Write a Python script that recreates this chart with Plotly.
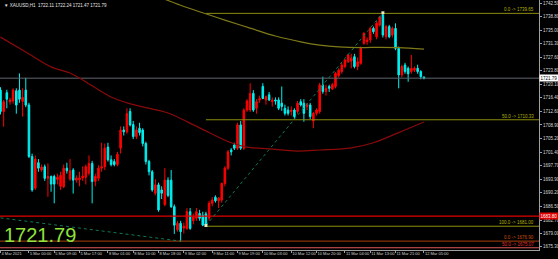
import plotly.graph_objects as go

# ---------------- data ----------------
opens = [1718.5,1712.6,1717.8,1715.3,1715.5,1718.3,1718.5,1715.4,1718.5,1714.4,
         1700.2,1691.5,1698.5,1696.5,1697.4,1694.2,1694.7,1694.7,1693.9,1692.0,
         1691.9,1697.0,1694.0,1696.5,1693.7,1693.8,1694.3,1694.5,1695.6,1698.3,
         1693.3,1694.2,1697.0,1697.4,1702.8,1699.3,1698.8,1698.0,1702.5,1707.5,
         1707.0,1712.6,1709.0,1705.7,1708.0,1707.5,1703.8,1698.8,1696.0,1690.1,
         1692.4,1691.0,1687.0,1693.7,1693.7,1686.4,1680.0,1681.8,1680.5,1680.4,
         1685.0,1682.5,1683.2,1684.5,1684.0,1684.4,1683.2,1687.3,1689.0,1688.0,
         1688.2,1692.8,1697.0,1702.0,1703.4,1702.5,1708.9,1702.5,1713.0,1713.0,
         1717.6,1713.5,1715.8,1719.5,1715.8,1717.2,1715.3,1715.8,1715.8,1714.9,
         1713.5,1713.0,1712.6,1713.0,1712.6,1715.3,1714.9,1713.9,1714.4,1710.0,
         1712.1,1712.6,1719.9,1718.1,1719.5,1718.8,1719.5,1722.5,1723.6,1725.0,
         1726.3,1726.5,1727.7,1725.0,1725.9,1731.4,1731.9,1732.3,1735.5,1733.2,
         1736.4,1739.2,1733.2,1736.0,1733.7,1735.5,1730.0,1722.7,1725.4,1724.5,
         1723.6,1724.0,1724.5,1723.6,1722.11]
highs = [1719.3,1715.8,1718.6,1716.4,1719.0,1719.0,1723.1,1719.0,1721.9,1715.0,
         1701.0,1700.5,1699.5,1698.0,1698.0,1698.3,1695.0,1695.2,1695.5,1696.0,
         1698.0,1698.5,1699.5,1697.0,1695.0,1696.0,1697.5,1698.0,1700.5,1699.0,
         1695.5,1697.8,1704.0,1703.8,1704.0,1700.5,1699.5,1701.5,1708.5,1708.5,
         1713.5,1713.5,1710.0,1708.5,1709.5,1708.0,1704.3,1699.3,1696.5,1694.0,
         1693.0,1692.0,1697.0,1694.5,1696.5,1687.0,1682.5,1682.5,1682.0,1686.0,
         1686.0,1684.5,1686.0,1685.5,1685.0,1685.0,1688.0,1689.0,1689.5,1689.0,
         1693.0,1697.5,1702.0,1702.5,1704.0,1709.5,1710.0,1713.5,1716.0,1720.4,
         1718.5,1716.0,1717.0,1720.4,1717.0,1718.0,1716.5,1716.5,1716.5,1719.5,
         1714.5,1714.0,1714.0,1713.5,1715.5,1716.0,1716.0,1715.0,1715.0,1712.5,
         1713.5,1720.5,1722.2,1720.0,1720.0,1720.5,1723.5,1724.5,1726.0,1727.0,
         1728.5,1728.5,1728.5,1727.5,1730.5,1734.5,1733.0,1736.0,1736.0,1737.5,
         1739.0,1739.8,1736.5,1736.5,1736.0,1736.9,1730.5,1725.5,1726.0,1725.0,
         1728.2,1725.0,1725.5,1724.0,1722.24]
lows = [1711.8,1708.4,1713.5,1714.5,1714.8,1712.0,1715.0,1711.2,1713.8,1699.8,
        1690.5,1691.0,1696.0,1696.0,1693.5,1689.1,1690.5,1687.3,1692.5,1691.0,
        1691.5,1695.5,1693.5,1690.0,1693.0,1692.0,1693.5,1692.5,1695.0,1687.3,
        1692.0,1693.5,1696.0,1696.5,1698.8,1697.5,1697.5,1697.5,1701.0,1706.0,
        1706.5,1708.5,1705.0,1705.0,1706.0,1703.0,1698.0,1695.0,1690.5,1689.5,
        1685.0,1688.5,1686.5,1689.0,1686.0,1678.9,1679.5,1676.7,1679.0,1680.0,
        1680.0,1681.5,1682.5,1682.5,1681.0,1681.0,1682.5,1686.5,1687.5,1686.0,
        1687.5,1692.0,1696.5,1700.5,1702.0,1702.0,1702.0,1702.0,1712.5,1712.5,
        1712.5,1712.0,1715.0,1716.0,1714.5,1715.5,1714.0,1714.5,1713.0,1712.8,
        1711.5,1711.5,1711.5,1710.5,1712.0,1714.0,1709.8,1713.0,1710.5,1708.0,
        1711.5,1712.0,1717.5,1717.0,1718.0,1718.5,1719.0,1722.0,1723.0,1724.5,
        1726.0,1724.5,1724.5,1724.0,1725.5,1731.0,1731.0,1731.5,1734.0,1732.5,
        1736.0,1733.0,1732.5,1732.8,1733.0,1729.5,1719.0,1722.0,1723.0,1720.8,
        1723.0,1723.5,1723.0,1721.5,1721.47]
closes = [1712.6,1715.3,1716.0,1715.8,1718.5,1714.4,1716.0,1716.5,1714.4,1700.2,
          1691.0,1699.5,1697.0,1697.3,1694.2,1694.7,1692.6,1692.6,1694.5,1695.0,
          1697.0,1696.3,1696.3,1693.7,1694.3,1694.3,1694.8,1697.4,1698.3,1693.3,
          1694.7,1697.0,1697.4,1702.5,1699.3,1698.0,1698.0,1700.8,1707.5,1707.0,
          1712.0,1708.9,1705.7,1707.5,1706.8,1703.8,1698.8,1696.0,1691.0,1692.4,
          1685.5,1690.1,1693.7,1689.5,1686.4,1681.3,1681.8,1679.5,1681.0,1685.0,
          1680.4,1683.5,1685.0,1683.2,1681.3,1681.3,1687.3,1688.2,1688.0,1688.7,
          1692.8,1697.0,1701.5,1701.5,1702.5,1708.9,1702.5,1713.0,1715.5,1717.6,
          1713.0,1715.3,1716.2,1716.2,1716.7,1715.8,1715.8,1715.5,1713.5,1714.0,
          1712.1,1712.1,1713.0,1711.2,1714.9,1714.4,1712.1,1714.6,1711.2,1712.1,
          1713.0,1719.9,1718.1,1719.0,1719.0,1720.0,1723.1,1724.0,1725.4,1726.8,
          1728.2,1727.3,1725.0,1726.3,1730.0,1734.1,1732.3,1735.5,1734.6,1736.9,
          1738.7,1733.7,1736.0,1733.2,1735.5,1730.0,1722.7,1725.0,1723.6,1723.0,
          1724.5,1724.5,1723.6,1722.2,1721.79]
bar_index = list(range(len(closes)))

# moving averages (bar index, value)
ma_slow_bars = [0, 8, 16, 22, 26, 35, 40, 45, 53, 63, 73, 78, 85, 94, 101, 111, 118, 126, 134]
ma_slow_vals = [1733.1, 1729.0, 1724.9, 1723.2, 1721.3, 1716.6, 1715.0, 1713.9, 1712.2, 1708.1,
                1704.0, 1702.8, 1702.3, 1701.7, 1702.0, 1702.6, 1704.0, 1706.8, 1709.7]
ma_fast_bars = [50, 57, 63, 71, 79, 87, 95, 101, 107, 114, 120, 126, 134]
ma_fast_vals = [1744.2, 1741.9, 1740.1, 1737.8, 1735.6, 1733.4, 1731.8, 1730.9, 1730.4,
                1730.2, 1730.3, 1730.2, 1729.8]

# fibonacci objects
fib_names = ["0.0", "50.0", "100.0"]
fib_levels = [1739.65, 1710.33, 1681.00]
fib_from_bar = 65
fib_trend_bars = [65, 121]
fib_trend_vals = [1681.2, 1739.8]
fib2_names = ["0.0", "50.0"]
fib2_levels = [1676.90, 1675.07]
fib2_trend_bars = [0, 57]
fib2_trend_vals = [1683.3, 1676.9]

hline_red = 1683.80
last_price = 1721.79

y_ticks = [1742.50, 1738.80, 1735.00, 1731.30, 1727.60, 1723.80, 1720.10, 1716.40, 1712.60,
           1708.90, 1705.20, 1701.40, 1697.70, 1693.90, 1690.20, 1686.50, 1682.70, 1679.00, 1675.30]
x_tick_bars = [0, 9, 17, 25, 34, 42, 50, 58, 67, 75, 83, 92, 100, 109, 117, 125, 134]
x_tick_text = ["4 Mar 2021", "5 Mar 00:00", "5 Mar 09:00", "5 Mar 17:00", "8 Mar 01:00",
               "8 Mar 10:00", "8 Mar 18:00", "9 Mar 02:00", "9 Mar 11:00", "9 Mar 19:00",
               "10 Mar 03:00", "10 Mar 12:00", "10 Mar 20:00", "11 Mar 04:00", "11 Mar 13:00",
               "11 Mar 21:00", "12 Mar 05:00"]

X_RANGE = [-0.16, 170.4]
Y_RANGE = [1674.45, 1743.33]

FIB_COL = "#8c8c10"
FIB_TXT = "#b4b400"

fig = go.Figure()

def hline(y, color, width=1, dash="solid"):
    fig.add_trace(go.Scatter(x=X_RANGE, y=[y, y], mode="lines",
                             line=dict(color=color, width=width, dash=dash),
                             hoverinfo="skip", showlegend=False))

hline(last_price, "#5f6770", 1)
hline(hline_red, "#e00000", 1.3)
hline(fib2_levels[0], "#a8400c", 1)
hline(fib2_levels[1], "#e05a5a", 1)

for lvl in fib_levels:
    fig.add_trace(go.Scatter(x=[fib_from_bar, X_RANGE[1]], y=[lvl, lvl], mode="lines",
                             line=dict(color=FIB_COL, width=1), hoverinfo="skip", showlegend=False))

fig.add_trace(go.Scatter(x=fib_trend_bars, y=fib_trend_vals, mode="lines",
                         line=dict(color="#107a55", width=1, dash="dot"),
                         hoverinfo="skip", showlegend=False))
fig.add_trace(go.Scatter(x=fib2_trend_bars, y=fib2_trend_vals, mode="lines",
                         line=dict(color="#107a55", width=1, dash="dot"),
                         hoverinfo="skip", showlegend=False))

fig.add_trace(go.Scatter(x=ma_slow_bars, y=ma_slow_vals, mode="lines",
                         line=dict(color="#8a0a0a", width=1.2, shape="spline"),
                         hoverinfo="skip", showlegend=False))
fig.add_trace(go.Scatter(x=ma_fast_bars, y=ma_fast_vals, mode="lines",
                         line=dict(color="#7f7a18", width=1.2, shape="spline"),
                         hoverinfo="skip", showlegend=False))

fig.add_trace(go.Candlestick(
    x=bar_index, open=opens, high=highs, low=lows, close=closes,
    increasing=dict(line=dict(color="#ff0000", width=1), fillcolor="#ff0000"),
    decreasing=dict(line=dict(color="#00f0f0", width=1), fillcolor="#00f0f0"),
    whiskerwidth=0, showlegend=False, hoverinfo="skip"))

fig.add_trace(go.Scatter(x=fib_trend_bars, y=fib_trend_vals, mode="markers",
                         marker=dict(color="#e8e8c0", size=3, symbol="square"),
                         hoverinfo="skip", showlegend=False))

annotations = []
for name, lvl in zip(fib_names, fib_levels):
    annotations.append(dict(x=0.995, xref="paper", y=lvl, yref="y", xanchor="right", yanchor="bottom",
                            text=f"{name} -> {lvl:.2f}", showarrow=False,
                            font=dict(size=4.5, color=FIB_TXT, family="Liberation Sans"), yshift=-1))
for name, lvl, col in zip(fib2_names, fib2_levels, ["#c8500f", "#e03030"]):
    annotations.append(dict(x=0.995, xref="paper", y=lvl, yref="y", xanchor="right", yanchor="bottom",
                            text=f"{name} -> {lvl:.2f}", showarrow=False,
                            font=dict(size=4.5, color=col, family="Liberation Sans"), yshift=-1))

annotations.append(dict(x=1.0, xref="paper", y=last_price, yref="y", xanchor="left", yanchor="middle",
                        text=f"{last_price:.2f}", showarrow=False, bgcolor="#ffffff",
                        font=dict(size=4.5, color="#000000", family="Liberation Sans"), borderpad=0.5))
annotations.append(dict(x=1.0, xref="paper", y=hline_red, yref="y", xanchor="left", yanchor="middle",
                        text=f"{hline_red:.2f}", showarrow=False, bgcolor="#e00000",
                        font=dict(size=4.5, color="#ffffff", family="Liberation Sans"), borderpad=0.5))

annotations.append(dict(x=0.004, xref="paper", y=0.995, yref="paper", xanchor="left", yanchor="top",
                        text="▼ XAUUSD,H1  1722.11 1722.24 1721.47 1721.79", showarrow=False,
                        font=dict(size=4.5, color="#e6e6e6", family="Liberation Sans")))
annotations.append(dict(x=0.004, xref="paper", y=1678.6, yref="y", xanchor="left", yanchor="middle",
                        text=f"{last_price:.2f}", showarrow=False,
                        font=dict(size=20, color="#8fe33a", family="Liberation Sans")))

fig.update_layout(
    width=558, height=259,
    margin=dict(l=0, r=19, t=0, b=9, autoexpand=False),
    paper_bgcolor="#000000", plot_bgcolor="#000000",
    showlegend=False,
    annotations=annotations,
    xaxis=dict(range=X_RANGE, showgrid=False, zeroline=False, rangeslider=dict(visible=False),
               automargin=False, tickangle=0,
               tickmode="array", tickvals=x_tick_bars, ticktext=x_tick_text,
               ticks="outside", ticklen=2, tickcolor="#a0a0a0",
               ticklabelposition="outside right", ticklabelstandoff=-1,
               tickfont=dict(size=4, color="#d8d8d8", family="Liberation Sans"),
               showline=True, linecolor="#a0a0a0", linewidth=1, fixedrange=True),
    yaxis=dict(range=Y_RANGE, side="right", showgrid=False, zeroline=False,
               automargin=False,
               tickmode="array", tickvals=y_ticks, ticktext=[f"{v:.2f}" for v in y_ticks],
               ticks="outside", ticklen=2, tickcolor="#a0a0a0",
               tickfont=dict(size=4.5, color="#d8d8d8", family="Liberation Sans"),
               showline=True, linecolor="#a0a0a0", linewidth=1, fixedrange=True),
)

fig.write_html("out.html")
